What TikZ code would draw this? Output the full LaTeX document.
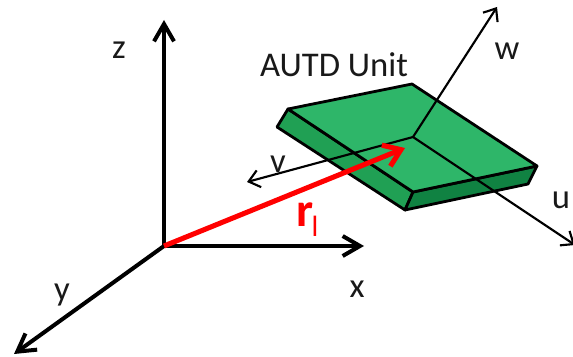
\documentclass[tikz,border=0pt]{standalone}
\usepackage{fontspec}
\setmainfont{Carlito}
\usetikzlibrary{arrows.meta}
\definecolor{platetop}{RGB}{46,182,105}
\definecolor{plateleft}{RGB}{32,160,84}
\definecolor{plateright}{RGB}{16,130,66}

\begin{document}
\begin{tikzpicture}[
  x=0.75pt, y=-0.75pt,
  lbl/.style={inner sep=0pt, font=\fontsize{26}{28}\selectfont, text=black!90},
  axis/.style={line width=3pt, -{Straight Barb[length=13pt, width=15pt, line width=3pt]}},
  local/.style={line width=1.6pt, -{Straight Barb[length=8pt, width=13pt, line width=1.6pt]}},
  edge/.style={line width=2.1pt, line join=round, draw=black}
]
\useasboundingbox (0,0) rectangle (573,356);
% plate
\coordinate (pa) at (288,109);
\coordinate (pb) at (412,84);
\coordinate (pc) at (537,166);
\coordinate (pd) at (413,192);
\coordinate (pe) at (277,127);
\coordinate (pf) at (405,210);
\coordinate (pg) at (528,184);
\filldraw[edge, fill=plateleft] (pa) -- (pd) -- (pf) -- (pe) -- cycle;
\filldraw[edge, fill=plateright] (pd) -- (pc) -- (pg) -- (pf) -- cycle;
\filldraw[edge, fill=platetop] (pa) -- (pb) -- (pc) -- (pd) -- cycle;
% axes
\coordinate (org) at (164,246);
\coordinate (zend) at (164,20);
\coordinate (xend) at (364,246);
\coordinate (yend) at (14,354);
\coordinate (ctr) at (413,137);
\coordinate (wend) at (497,7);
\coordinate (vend) at (247,182);
\coordinate (uend) at (575,245);
\coordinate (rend) at (405,148);
\draw[axis] (org) -- (zend);
\draw[axis] (org) -- (xend);
\draw[axis] (org) -- (yend);
\draw[local] (ctr) -- (wend);
\draw[local] (ctr) -- (vend);
\draw[local] (ctr) -- (uend);
\draw[line width=3.8pt, draw=red, -{Straight Barb[length=12pt, width=17pt, line width=3.8pt]}] (org) -- (rend);
% labels
\node[lbl] (zlab) at (119,50) {z};
\node[lbl] (xlab) at (357,289) {x};
\node[lbl] (ylab) at (62,295) {y};
\node[lbl] (wlab) at (507,51) {w};
\node[lbl] (vlab) at (278,164) {v};
\node[lbl] (ulab) at (561,200) {u};
\node[lbl] (unitlab) at (334,65) {AUTD Unit};
\node[inner sep=0pt, text=red, font=\fontsize{36}{38}\selectfont\bfseries] (rlab) at (305,215) {r};
\node[inner sep=0pt, text=red, font=\fontsize{22}{24}\selectfont] (llab) at (315,226) {l};
\end{tikzpicture}
\end{document}
